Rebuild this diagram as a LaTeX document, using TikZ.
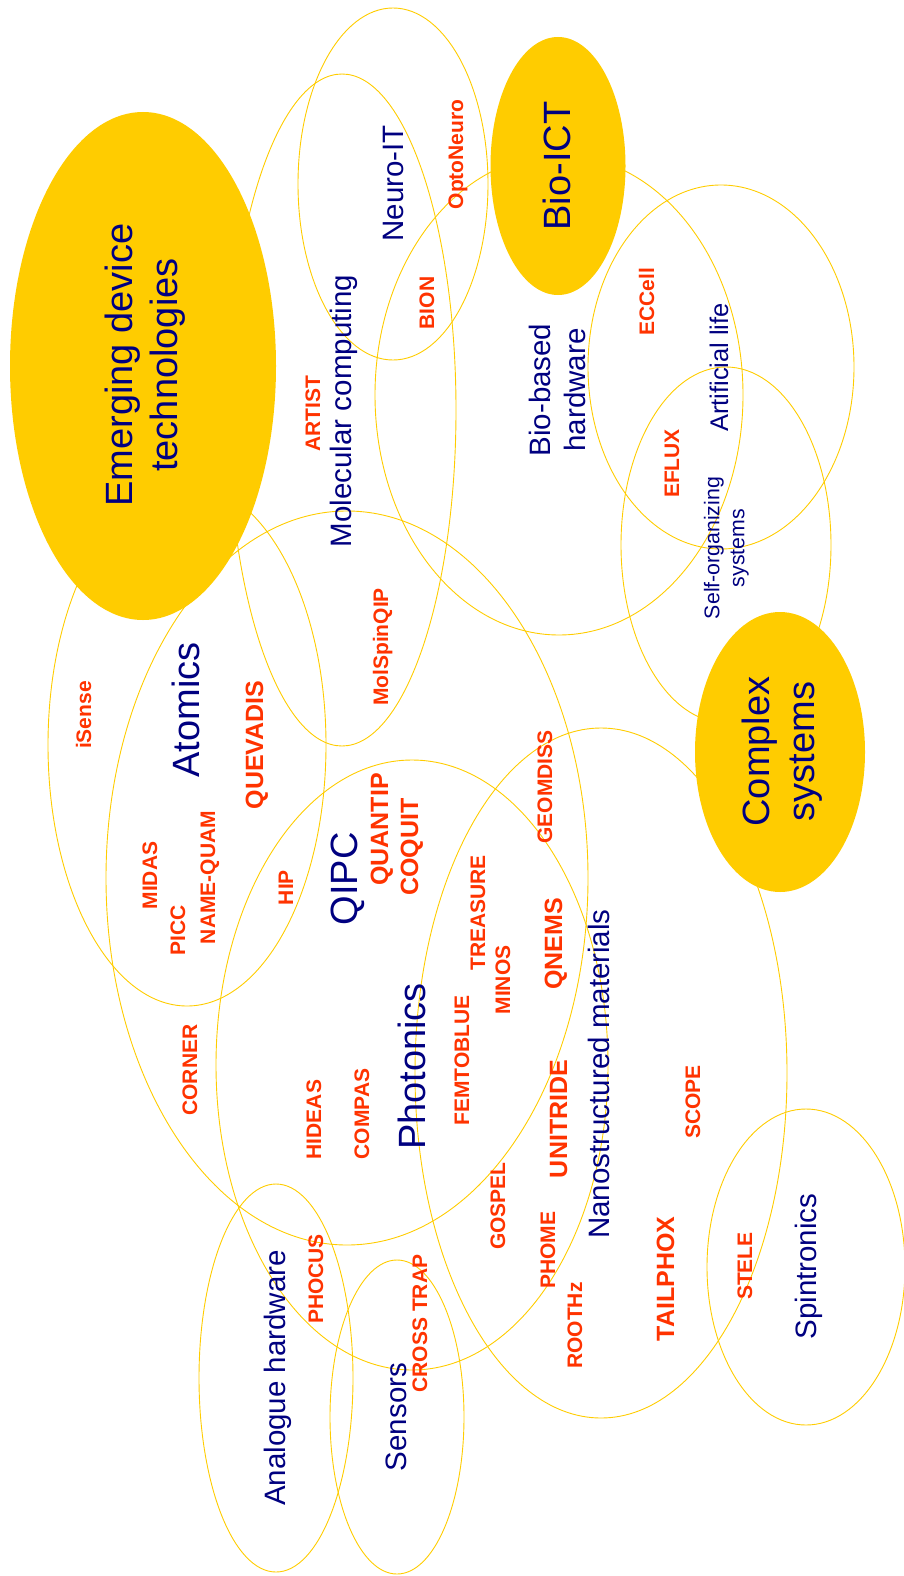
\documentclass[tikz,border=0pt]{standalone}
\usepackage{fontspec}
\setmainfont{Liberation Sans}
\usepackage{tikz}
\definecolor{fetYellow}{RGB}{255,204,0}
\definecolor{topicBlue}{RGB}{0,0,128}
\definecolor{projRed}{RGB}{255,51,0}

\tikzset{
  ring/.style={draw=fetYellow, line width=0.9pt},
  blob/.style={fill=fetYellow},
  topic/.style={text=topicBlue, rotate=90, inner sep=0pt, anchor=base, font=\fontsize{29.5}{35}\selectfont},
  bigtopic/.style={topic, font=\fontsize{38}{45}\selectfont},
  proj/.style={text=projRed, rotate=90, inner sep=0pt, anchor=base, font=\bfseries\fontsize{21}{25}\selectfont},
  bigproj/.style={proj, font=\bfseries\fontsize{25}{30}\selectfont},
}

\begin{document}
\begin{tikzpicture}[x=1pt, y=-1pt]
    \useasboundingbox (0,0) rectangle (904,1576);

    % centres of the rings
    \coordinate (cAtom) at (187,745);
    \coordinate (cQipc) at (347,878);
    \coordinate (cPhot) at (412,1065);
    \coordinate (cNano) at (601,1073);
    \coordinate (cSpin) at (806,1267);
    \coordinate (cAna) at (276,1378);
    \coordinate (cSens) at (397,1417);
    \coordinate (cMol) at (342,410);
    \coordinate (cNeuro) at (393,184);
    \coordinate (cBioHw) at (559,395);
    \coordinate (cLife) at (721,367);
    \coordinate (cSelf) at (726,545);

    \draw[ring] (cAtom) ellipse [x radius=139pt, y radius=261pt];
    \draw[ring] (cQipc) ellipse [x radius=241pt, y radius=367pt];
    \draw[ring] (cPhot) ellipse [x radius=196pt, y radius=305pt];
    \draw[ring] (cNano) ellipse [x radius=186pt, y radius=345pt];
    \draw[ring] (cSpin) ellipse [x radius=99pt, y radius=158pt];
    \draw[ring] (cAna) ellipse [x radius=77pt, y radius=194pt];
    \draw[ring] (cSens) ellipse [x radius=67pt, y radius=157pt];
    \draw[ring] (cMol) ellipse [x radius=114pt, y radius=336pt];
    \draw[ring] (cNeuro) ellipse [x radius=95pt, y radius=176pt];
    \draw[ring] (cBioHw) ellipse [x radius=184pt, y radius=240pt];
    \draw[ring] (cLife) ellipse [x radius=133pt, y radius=182pt];
    \draw[ring] (cSelf) ellipse [x radius=105pt, y radius=178pt];

    % the three filled areas
    \fill[blob] (143,366) ellipse [x radius=133pt, y radius=254pt];
    \fill[blob] (558,166) ellipse [x radius=67.5pt, y radius=129pt];
    \fill[blob] (780,752) ellipse [x radius=85pt, y radius=140pt];

    % topics
    \node[bigtopic, anchor=north, align=center] (emerging) at (104.6,365) {Emerging device\\technologies};
    \node[bigtopic] (bioict) at (570,166) {Bio-ICT};
    \node[bigtopic, anchor=north, align=center] (complex) at (741.6,751.5) {Complex\\systems};
    \node[topic] (neuro) at (403,183.5) {Neuro-IT};
    \node[topic] (molcomp) at (351,411) {Molecular computing};
    \node[topic, anchor=north, align=center] (biohw) at (528.8,390) {Bio-based\\hardware};
    \node[topic, font=\fontsize{25.5}{30}\selectfont] (alife) at (728,367.5) {Artificial life};
    \node[topic, anchor=north, align=center, font=\fontsize{21.3}{25}\selectfont] (selforg) at (703.7,548) {Self-organizing\\systems};
    \node[bigtopic] (atomics) at (199,710) {Atomics};
    \node[bigtopic] (qipc) at (357,879) {QIPC};
    \node[bigtopic] (photonics) at (425,1066.5) {Photonics};
    \node[topic] (nano) at (609,1074) {Nanostructured materials};
    \node[topic] (spin) at (816,1266.5) {Spintronics};
    \node[topic] (analogue) at (285,1378) {Analogue hardware};
    \node[topic] (sensors) at (406,1417) {Sensors};

    % projects
    \node[proj] (optoneuro) at (463,154.5) {OptoNeuro};
    \node[proj] (bion) at (434,303) {BION};
    \node[proj] (artist) at (320,413.5) {ARTIST};
    \node[proj] (eccell) at (654,301.5) {ECCell};
    \node[proj] (eflux) at (679,463.5) {EFLUX};
    \node[proj] (molspin) at (388,647) {MolSpinQIP};
    \node[proj] (isense) at (91,715) {iSense};
    \node[bigproj] (quevadis) at (263,745) {QUEVADIS};
    \node[proj] (geomdiss) at (552,787) {GEOMDISS};
    \node[bigproj] (quantip) at (388,829.5) {QUANTIP};
    \node[bigproj] (coquit) at (418,847) {COQUIT};
    \node[proj] (midas) at (157,875.5) {MIDAS};
    \node[proj] (picc) at (185,930) {PICC};
    \node[proj] (namequam) at (215,877.5) {NAME-QUAM};
    \node[proj] (hip) at (293,887.5) {HIP};
    \node[proj] (treasure) at (485,913) {TREASURE};
    \node[proj] (minos) at (510,980) {MINOS};
    \node[bigproj] (qnems) at (562,944) {QNEMS};
    \node[proj] (femto) at (469,1060.5) {FEMTOBLUE};
    \node[proj] (corner) at (197,1070) {CORNER};
    \node[proj] (hideas) at (321,1119.5) {HIDEAS};
    \node[proj] (compas) at (369,1114) {COMPAS};
    \node[bigproj] (unitride) at (567,1119) {UNITRIDE};
    \node[proj] (scope) at (700,1102) {SCOPE};
    \node[proj] (gospel) at (505,1206) {GOSPEL};
    \node[proj] (phome) at (555,1250) {PHOME};
    \node[proj] (roothz) at (582,1325.5) {ROOTHz};
    \node[bigproj] (tailphox) at (674,1279) {TAILPHOX};
    \node[proj] (stele) at (752,1266) {STELE};
    \node[proj] (phocus) at (323,1279) {PHOCUS};
    \node[proj] (crosstrap) at (427,1323.5) {CROSS TRAP};
\end{tikzpicture}
\end{document}
